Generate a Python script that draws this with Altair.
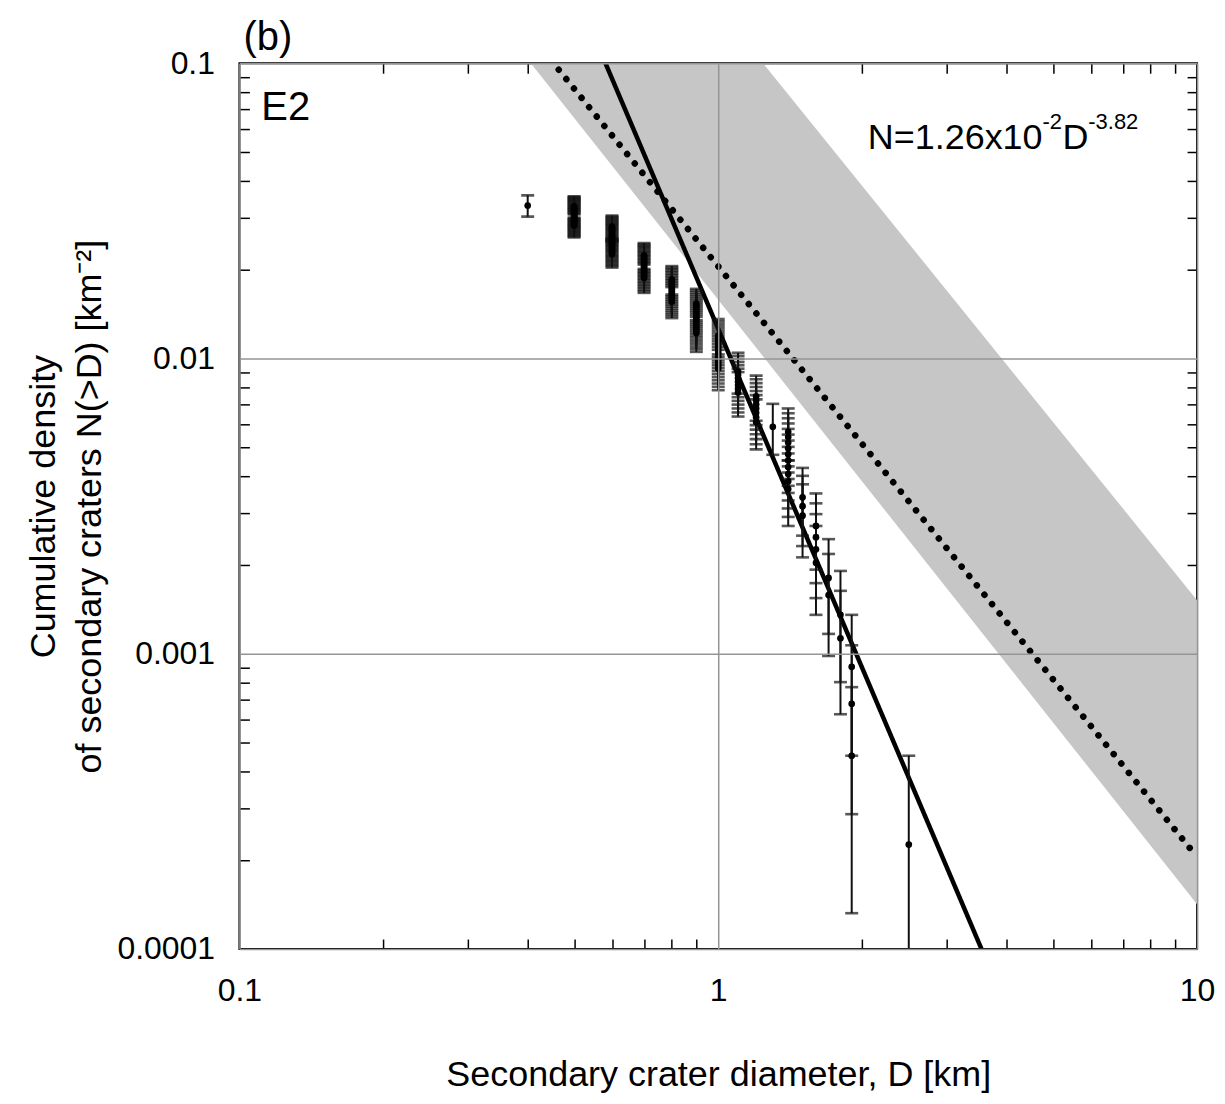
import math
import altair as alt
import pandas as pd

# ---- data ----
# secondary crater diameter bins (km), largest first, and number of craters in each bin
diam_bins = [2.5, 1.9, 1.8, 1.7, 1.6, 1.5, 1.4, 1.3, 1.2, 1.1, 1.0, 0.9, 0.8, 0.7, 0.6, 0.5, 0.4]
bin_counts = [1, 3, 2, 2, 4, 3, 10, 1, 7, 7, 13, 15, 14, 17, 25, 21, 1]
count_area_km2 = 4430.0

# power-law lines N = c * D^p
fit_coef, fit_exp = 1.26e-2, -3.82          # solid fit line (annotated)
dotted_coef, dotted_exp = 2.05e-2, -2.0     # dotted reference line
band_hi_coef, band_hi_exp = 0.154, -2.006   # upper edge of grey band
band_lo_coef, band_lo_exp = 0.0158, -2.047  # lower edge of grey band
line_D = [0.1, 10.0]

x_ticks = [0.1, 1, 10]
y_ticks = [0.0001, 0.001, 0.01, 0.1]
x_minor = [0.2, 0.3, 0.4, 0.5, 0.6, 0.7, 0.8, 0.9, 2, 3, 4, 5, 6, 7, 8, 9]
y_minor = [2e-4, 3e-4, 4e-4, 5e-4, 6e-4, 7e-4, 8e-4, 9e-4,
           2e-3, 3e-3, 4e-3, 5e-3, 6e-3, 7e-3, 8e-3, 9e-3,
           2e-2, 3e-2, 4e-2, 5e-2, 6e-2, 7e-2, 8e-2, 9e-2]

# ---- tables ----
rows = []
k = 0
for d, c in zip(diam_bins, bin_counts):
    for _ in range(c):
        k += 1
        n = k / count_area_km2
        e = math.sqrt(k) / count_area_km2
        rows.append({"D": d, "N": n, "hi": n + e, "lo": n - e,
                     "lo_rule": max(n - e, 1e-7)})
pts = pd.DataFrame(rows)
pts_lo = pts[pts["lo"] > 0]

fit_df = pd.DataFrame({"D": line_D, "N": [fit_coef * d ** fit_exp for d in line_D]})
dot_df = pd.DataFrame({"D": line_D, "N": [dotted_coef * d ** dotted_exp for d in line_D]})
band_df = pd.DataFrame({"D": line_D,
                        "up": [band_hi_coef * d ** band_hi_exp for d in line_D],
                        "low": [band_lo_coef * d ** band_lo_exp for d in line_D]})

FONT = "Liberation Sans"
xs = alt.Scale(type="log", domain=[0.1, 10], nice=False)
ys = alt.Scale(type="log", domain=[0.0001, 0.1], nice=False)
NOAX = None
BAR = "#111111"

main_x = alt.Axis(values=x_ticks, format="~g", labelFont=FONT, labelFontSize=32,
                  labelColor="black", labelPadding=27, ticks=False, tickSize=0,
                  domain=False, grid=True, gridColor="#959595", gridWidth=1.5,
                  labelFlush=False, labelOverlap=False,
                  title="Secondary crater diameter, D [km]", titleFont=FONT,
                  titleFontSize=36, titleFontWeight="normal", titleColor="black",
                  titlePadding=51, zindex=1, orient="bottom")
main_y = alt.Axis(values=y_ticks, format="~g", labelFont=FONT, labelFontSize=32,
                  labelColor="black", labelPadding=25, ticks=False, tickSize=0,
                  domain=False, grid=True, gridColor="#959595", gridWidth=1.5,
                  labelFlush=False, labelOverlap=False,
                  title=["Cumulative density", "of secondary craters N(>D) [km⁻²]"],
                  titleFont=FONT, titleFontSize=36, titleFontWeight="normal",
                  titleColor="black", titlePadding=8, titleLineHeight=47,
                  zindex=1, orient="left")


def tick_axis(orient, vals):
    return alt.Axis(orient=orient, values=vals, offset=-10, tickSize=10, tickWidth=1.5,
                    tickColor="black", labels=False, domain=False, grid=False,
                    title=None)


band = alt.Chart(band_df).mark_area(color="#c6c6c6", clip=True).encode(
    x=alt.X("D:Q", scale=xs, axis=main_x),
    y=alt.Y("up:Q", scale=ys, axis=main_y),
    y2="low:Q",
)

dotted = alt.Chart(dot_df).mark_line(color="black", strokeWidth=6.5, strokeDash=[0.1, 12],
                                     strokeCap="round", clip=True).encode(
    x=alt.X("D:Q", scale=xs, axis=tick_axis("bottom", x_minor)),
    y=alt.Y("N:Q", scale=ys, axis=tick_axis("left", y_minor)),
)

solid = alt.Chart(fit_df).mark_line(color="black", strokeWidth=4.5, clip=True).encode(
    x=alt.X("D:Q", scale=xs, axis=tick_axis("top", x_minor)),
    y=alt.Y("N:Q", scale=ys, axis=tick_axis("right", y_minor)),
)

rules = alt.Chart(pts).mark_rule(color=BAR, strokeWidth=2, clip=True).encode(
    x=alt.X("D:Q", scale=xs, axis=NOAX),
    y=alt.Y("hi:Q", scale=ys, axis=NOAX),
    y2="lo_rule:Q",
)
caps_hi = alt.Chart(pts).mark_tick(color=BAR, orient="horizontal", size=13,
                                   thickness=2.6, clip=True).encode(
    x=alt.X("D:Q", scale=xs, axis=NOAX),
    y=alt.Y("hi:Q", scale=ys, axis=NOAX),
)
caps_lo = alt.Chart(pts_lo).mark_tick(color=BAR, orient="horizontal", size=13,
                                      thickness=2.6, clip=True).encode(
    x=alt.X("D:Q", scale=xs, axis=NOAX),
    y=alt.Y("lo:Q", scale=ys, axis=NOAX),
)
dots = alt.Chart(pts).mark_circle(color="black", size=45, opacity=1).encode(
    x=alt.X("D:Q", scale=xs, axis=NOAX),
    y=alt.Y("N:Q", scale=ys, axis=NOAX),
)

# ---- annotations ----
ann_df = pd.DataFrame({"t": ["(b)", "E2", "N=1.26x10", "-2", "D", "-3.82"],
                       "px": [4, 22, 630, 805, 825, 851],
                       "py": [-13, 57, 86, 66, 86, 66],
                       "fs": [40, 40, 36, 22, 36, 22]})


def ann(i):
    r = ann_df.iloc[[i]]
    return alt.Chart(r).mark_text(font=FONT, fontSize=int(r["fs"].iloc[0]), align="left",
                                  baseline="alphabetic", color="black").encode(
        x=alt.value(float(r["px"].iloc[0])),
        y=alt.value(float(r["py"].iloc[0])),
        text="t:N",
    )


texts = [ann(i) for i in range(len(ann_df))]

chart = alt.layer(band, dotted, solid, rules, caps_hi, caps_lo, dots, *texts).resolve_axis(
    x="independent", y="independent"
).properties(
    width=960, height=888,
    autosize=alt.AutoSizeParams(type="none"),
    padding={"left": 232, "top": 54, "right": 20, "bottom": 150},
    background="white",
).configure_view(stroke="black", strokeWidth=2)

chart.save("out.html", embed_options={"renderer": "svg", "actions": False})
